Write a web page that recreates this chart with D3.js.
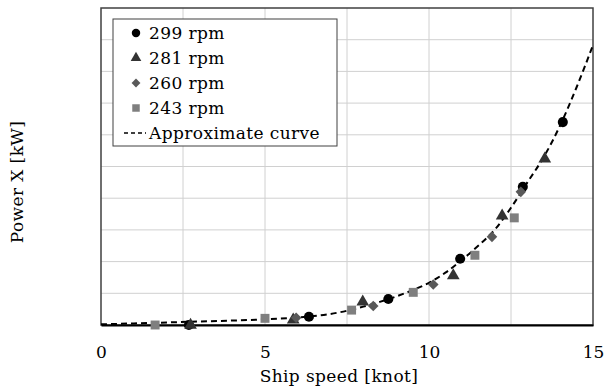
<!DOCTYPE html>
<html>
<head>
<meta charset="utf-8">
<script src="https://cdn.jsdelivr.net/npm/d3@7"></script>
<style>
  body { margin: 0; background: #fff; }
  svg text { font-family: "DejaVu Serif", serif; fill: #000; }
</style>
</head>
<body>
<div id="chart"></div>
<script>
// measured points, [speed knot, power (relative units)]
const rpm299 = [[2.68, 0.0], [6.34, 0.26], [8.76, 0.82], [10.95, 2.09], [12.86, 4.36], [14.08, 6.40]];
const rpm281 = [[2.73, 0.0], [5.86, 0.16], [7.98, 0.73], [10.74, 1.56], [12.23, 3.44], [13.53, 5.24]];
const rpm260 = [[5.95, 0.23], [8.30, 0.60], [10.13, 1.28], [11.92, 2.78], [12.80, 4.20]];
const rpm243 = [[1.65, 0.0], [5.0, 0.21], [7.64, 0.47], [9.52, 1.03], [11.40, 2.20], [12.60, 3.38]];

// approximate curve
const curveX = [0, 1, 2, 3, 4, 5, 6, 7, 7.5, 8, 8.5, 9, 9.5, 10, 10.5, 11, 11.5, 12, 12.5, 13, 13.5, 14, 14.5, 15];
const curveY = [0.02, 0.05, 0.08, 0.11, 0.14, 0.18, 0.24, 0.35, 0.45, 0.58, 0.73, 0.9, 1.1, 1.33, 1.65, 2.05, 2.5, 3.0, 3.7, 4.5, 5.3, 6.3, 7.5, 8.83];

const xTicks = [0, 5, 10, 15];
const xGrid = [2.5, 5, 7.5, 10, 12.5];
const yGrid = [1, 2, 3, 4, 5, 6, 7, 8, 9];

// diamond = square turned 45 degrees
const series = [
  { name: '299 rpm', data: rpm299, symbol: d3.symbolCircle, color: '#000000', size: 80, rot: 0 },
  { name: '281 rpm', data: rpm281, symbol: d3.symbolTriangle, color: '#333333', size: 70, rot: 0 },
  { name: '260 rpm', data: rpm260, symbol: d3.symbolSquare, color: '#595959', size: 56, rot: 45 },
  { name: '243 rpm', data: rpm243, symbol: d3.symbolSquare, color: '#7f7f7f', size: 80, rot: 0 }
];

const W = 606, H = 392;
const margin = { top: 8, right: 13, bottom: 67, left: 101 };
const width = W - margin.left - margin.right;
const height = H - margin.top - margin.bottom;
const fontSize = '17px';

const svg = d3.select('#chart').append('svg')
  .attr('width', W)
  .attr('height', H);

const g = svg.append('g')
  .attr('transform', `translate(${margin.left},${margin.top})`);

const x = d3.scaleLinear().domain([0, 15]).range([0, width]);
const y = d3.scaleLinear().domain([0, 10]).range([height, 0]);

// grid
g.append('g').selectAll('line').data(xGrid).join('line')
  .attr('x1', d => x(d)).attr('x2', d => x(d))
  .attr('y1', 0).attr('y2', height)
  .attr('stroke', '#d0d0d0').attr('stroke-width', 1);

g.append('g').selectAll('line').data(yGrid).join('line')
  .attr('x1', 0).attr('x2', width)
  .attr('y1', d => y(d)).attr('y2', d => y(d))
  .attr('stroke', '#d0d0d0').attr('stroke-width', 1);

// frame
g.append('rect')
  .attr('width', width).attr('height', height)
  .attr('fill', 'none').attr('stroke', '#404040').attr('stroke-width', 1.5);

// x axis (labels only)
const xAxis = g.append('g')
  .attr('transform', `translate(0,${height})`)
  .call(d3.axisBottom(x).tickValues(xTicks).tickSize(0).tickPadding(21).tickFormat(d3.format('d')));
xAxis.select('.domain').attr('stroke', '#000').attr('stroke-width', 2);
xAxis.selectAll('text').style('font-size', fontSize).style('font-family', '"DejaVu Serif", serif');

// approximate curve
const line = d3.line()
  .x((d, i) => x(curveX[i]))
  .y(d => y(d))
  .curve(d3.curveMonotoneX);

g.append('path')
  .datum(curveY)
  .attr('d', line)
  .attr('fill', 'none')
  .attr('stroke', '#000')
  .attr('stroke-width', 2)
  .attr('stroke-dasharray', '6,4');

// markers
series.forEach(s => {
  g.append('g').selectAll('path').data(s.data).join('path')
    .attr('transform', d => `translate(${x(d[0])},${y(d[1])}) rotate(${s.rot})`)
    .attr('d', d3.symbol().type(s.symbol).size(s.size))
    .attr('fill', s.color);
});

// axis titles
svg.append('text')
  .attr('x', 339)
  .attr('y', 382)
  .attr('text-anchor', 'middle')
  .style('font-size', fontSize)
  .style('letter-spacing', '0.4px')
  .text('Ship speed [knot]');

svg.append('text')
  .attr('transform', 'translate(23,182) rotate(-90)')
  .attr('text-anchor', 'middle')
  .style('font-size', fontSize)
  .style('letter-spacing', '0.4px')
  .text('Power X [kW]');

// legend
const legend = svg.append('g').attr('transform', 'translate(113,19)');
legend.append('rect')
  .attr('width', 224).attr('height', 127)
  .attr('fill', '#fff').attr('stroke', '#404040').attr('stroke-width', 1);

series.forEach((s, i) => {
  const row = legend.append('g').attr('transform', `translate(0,${14 + i * 25})`);
  row.append('path')
    .attr('transform', `translate(23,0) rotate(${s.rot})`)
    .attr('d', d3.symbol().type(s.symbol).size(s.size * 0.7))
    .attr('fill', s.color);
  row.append('text')
    .attr('x', 36).attr('y', 6)
    .style('font-size', fontSize)
    .style('letter-spacing', '0.4px')
    .text(s.name);
});

const lastRow = legend.append('g').attr('transform', `translate(0,${14 + 4 * 25})`);
lastRow.append('line')
  .attr('x1', 11).attr('x2', 33)
  .attr('stroke', '#000').attr('stroke-width', 1.5)
  .attr('stroke-dasharray', '4,3');
lastRow.append('text')
  .attr('x', 36).attr('y', 6)
  .style('font-size', fontSize)
  .style('letter-spacing', '0.4px')
  .text('Approximate curve');
</script>
</body>
</html>
